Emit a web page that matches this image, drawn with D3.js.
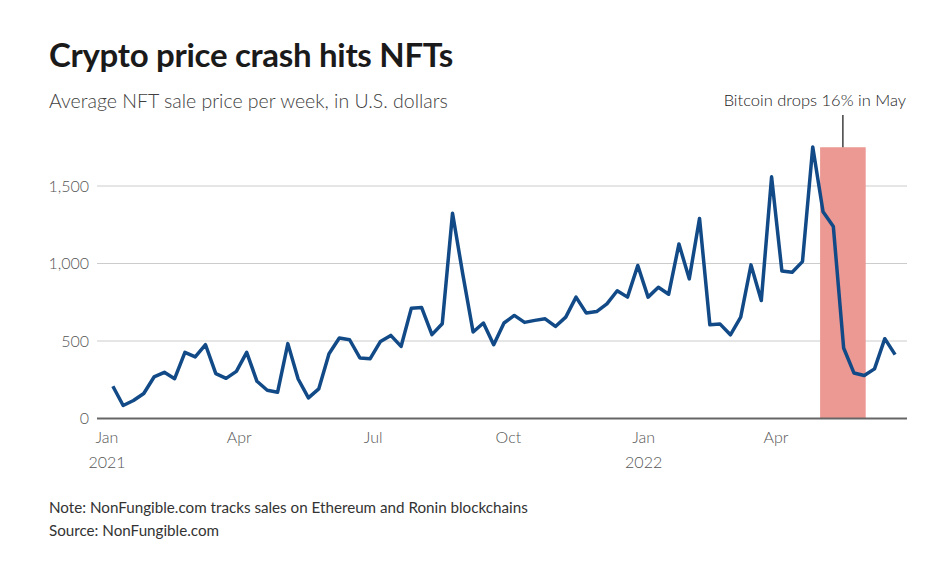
<!DOCTYPE html>
<html><head><meta charset="utf-8">
<script src="https://cdn.jsdelivr.net/npm/d3@7"></script>
<style>
body{margin:0;background:#fff;}
svg{display:block;font-family:"Source Sans Pro","Lato","Noto Sans",sans-serif;}
</style></head>
<body><svg id="c" width="952" height="567"></svg>
<script>
const startDate = new Date(2021, 0, 5);
const prices = [208, 84, 116, 161, 268, 298, 257, 427, 397, 476,
  290, 259, 304, 427, 240, 182, 169, 483, 255, 133,
  191, 418, 519, 508, 391, 386, 497, 536, 465, 712,
  716, 541, 611, 1324, 930, 558, 616, 476, 616, 665,
  620, 633, 643, 594, 654, 783, 680, 690, 740, 824,
  783, 987, 783, 847, 802, 1126, 901, 1291, 605, 609,
  540, 654, 991, 761, 1559, 952, 944, 1012, 1752, 1334,
  1238, 455, 294, 277, 320, 515, 412];
const yTicks = [0, 500, 1000, 1500];
const xTickDates = [new Date(2021,0,1), new Date(2021,3,1), new Date(2021,6,1), new Date(2021,9,1), new Date(2022,0,1), new Date(2022,3,1)];
const xTickLabels = [["Jan","2021"],["Apr",""],["Jul",""],["Oct",""],["Jan","2022"],["Apr",""]];
const highlight = {start: new Date(2022,4,1), end: new Date(2022,5,1), top: 1750, label: "Bitcoin drops 16% in May"};

const data = prices.map((v,i)=>({date: d3.timeWeek.offset(startDate, i), value: v}));

const svg = d3.select("#c");
const x = d3.scaleTime().domain([new Date(2021,0,1), new Date(2022,3,1)]).range([107, 776]);
const y = d3.scaleLinear().domain([0,1500]).range([418.5, 186]);
const left = 97, right = 907;

// title
svg.append("text").attr("x",49).attr("y",67).attr("font-size",33).attr("font-weight",700)
  .attr("fill","#1a1a1a").style("letter-spacing","-0.3px").text("Crypto price crash hits NFTs");
svg.append("text").attr("x",49).attr("y",108).attr("font-size",19.5).attr("font-weight",300)
  .attr("fill","#404040").text("Average NFT sale price per week, in U.S. dollars");

// gridlines
svg.append("g").selectAll("line").data(yTicks.filter(d=>d>0)).join("line")
  .attr("x1",left).attr("x2",right).attr("y1",d=>y(d)).attr("y2",d=>y(d))
  .attr("stroke","#cccccc").attr("stroke-width",1);

// y labels
svg.append("g").selectAll("text").data(yTicks).join("text")
  .attr("x",89).attr("y",d=>y(d)).attr("dy","0.35em").attr("text-anchor","end")
  .attr("font-size",16).attr("font-weight",300).attr("fill","#555").text(d=>d3.format(",")(d));

// highlight rect
svg.append("rect").attr("x",x(highlight.start)).attr("width",x(highlight.end)-x(highlight.start))
  .attr("y",y(highlight.top)).attr("height",y(0)-y(highlight.top)).attr("fill","#ec9893");
const mid = (x(highlight.start)+x(highlight.end))/2;
svg.append("line").attr("x1",mid).attr("x2",mid).attr("y1",115).attr("y2",y(highlight.top))
  .attr("stroke","#111").attr("stroke-width",1.2);
svg.append("text").attr("x",906).attr("y",106).attr("text-anchor","end").attr("font-size",16.5)
  .attr("font-weight",300).attr("fill","#222").text(highlight.label);

// baseline
svg.append("line").attr("x1",left).attr("x2",right).attr("y1",y(0)).attr("y2",y(0))
  .attr("stroke","#666").attr("stroke-width",2);

// x labels
const xl = svg.append("g").selectAll("g").data(xTickDates).join("g");
xl.append("text").attr("x",d=>x(d)).attr("y",443).attr("text-anchor","middle").attr("font-size",16)
  .attr("font-weight",300).attr("fill","#555").text((d,i)=>xTickLabels[i][0]);
xl.append("text").attr("x",d=>x(d)).attr("y",468).attr("text-anchor","middle").attr("font-size",16)
  .attr("font-weight",300).attr("fill","#555").text((d,i)=>xTickLabels[i][1]);

// line
svg.append("path").datum(data).attr("fill","none").attr("stroke","#114a87").attr("stroke-width",3.5)
  .attr("stroke-linejoin","round").attr("d",d3.line().x(d=>x(d.date)).y(d=>y(d.value)));

// notes
svg.append("text").attr("x",49).attr("y",513).attr("font-size",15.2).attr("fill","#333")
  .text("Note: NonFungible.com tracks sales on Ethereum and Ronin blockchains");
svg.append("text").attr("x",49).attr("y",536).attr("font-size",15.2).attr("fill","#333")
  .text("Source: NonFungible.com");
</script></body></html>
